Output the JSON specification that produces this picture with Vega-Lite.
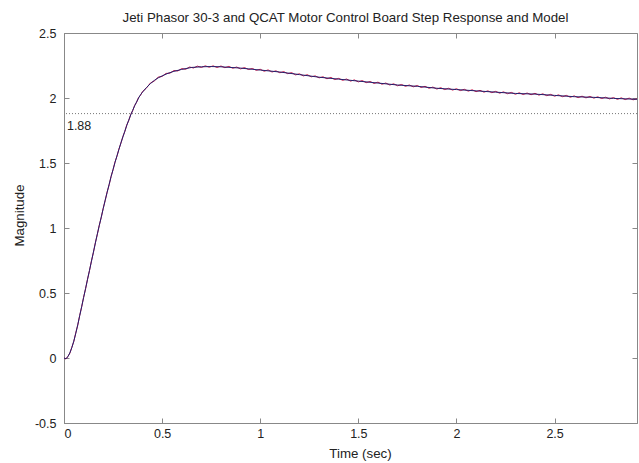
{
  "$schema": "https://vega.github.io/schema/vega-lite/v6.json",
  "width": 573,
  "height": 390,
  "autosize": "none",
  "padding": {"left": 64, "top": 33, "right": 2, "bottom": 40},
  "background": "white",
  "config": {
    "font": "Liberation Sans",
    "view": {"stroke": "#888", "strokeWidth": 1},
    "axis": {"grid": false, "domainColor": "#888", "tickColor": "#888", "labelColor": "#222", "titleColor": "#222", "labelFontSize": 12.5, "titleFontSize": 13.3, "titleFontWeight": "normal", "tickSize": -5, "labelPadding": 9}
  },
  "title": {"text": "Jeti Phasor 30-3 and QCAT Motor Control Board Step Response and Model", "fontSize": 13.3, "fontWeight": "normal", "color": "#222", "anchor": "middle", "offset": 3, "dx": -5},
  "datasets": {
    "ref": [{"t": 0.02, "y": 1.88, "label": "1.88"}],
    "model": [
      {"t": 0, "y": 0}, {"t": 0.01, "y": -0.005}, {"t": 0.02, "y": 0.01}, {"t": 0.03, "y": 0.04}, {"t": 0.04, "y": 0.08},
      {"t": 0.05, "y": 0.13}, {"t": 0.06, "y": 0.19}, {"t": 0.07, "y": 0.255}, {"t": 0.08, "y": 0.325}, {"t": 0.09, "y": 0.395},
      {"t": 0.1, "y": 0.465}, {"t": 0.11, "y": 0.535}, {"t": 0.12, "y": 0.605}, {"t": 0.13, "y": 0.675}, {"t": 0.14, "y": 0.745},
      {"t": 0.15, "y": 0.815}, {"t": 0.16, "y": 0.885}, {"t": 0.17, "y": 0.955}, {"t": 0.18, "y": 1.02}, {"t": 0.19, "y": 1.085},
      {"t": 0.2, "y": 1.15}, {"t": 0.21, "y": 1.215}, {"t": 0.22, "y": 1.275}, {"t": 0.23, "y": 1.335}, {"t": 0.24, "y": 1.395},
      {"t": 0.25, "y": 1.45}, {"t": 0.26, "y": 1.505}, {"t": 0.27, "y": 1.555}, {"t": 0.28, "y": 1.605}, {"t": 0.29, "y": 1.655},
      {"t": 0.3, "y": 1.7}, {"t": 0.31, "y": 1.745}, {"t": 0.32, "y": 1.79}, {"t": 0.33, "y": 1.83}, {"t": 0.34, "y": 1.87},
      {"t": 0.35, "y": 1.905}, {"t": 0.36, "y": 1.94}, {"t": 0.37, "y": 1.97}, {"t": 0.38, "y": 2.0}, {"t": 0.39, "y": 2.025},
      {"t": 0.4, "y": 2.045}, {"t": 0.42, "y": 2.08}, {"t": 0.44, "y": 2.11}, {"t": 0.46, "y": 2.135}, {"t": 0.48, "y": 2.155},
      {"t": 0.5, "y": 2.17}, {"t": 0.53, "y": 2.19}, {"t": 0.56, "y": 2.205}, {"t": 0.6, "y": 2.22}, {"t": 0.65, "y": 2.235},
      {"t": 0.7, "y": 2.24}, {"t": 0.75, "y": 2.242}, {"t": 0.8, "y": 2.24},
      {"t": 0.9, "y": 2.23}, {"t": 1.0, "y": 2.215}, {"t": 1.1, "y": 2.2}, {"t": 1.2, "y": 2.18}, {"t": 1.3, "y": 2.16},
      {"t": 1.4, "y": 2.145}, {"t": 1.5, "y": 2.13}, {"t": 1.6, "y": 2.115}, {"t": 1.7, "y": 2.1}, {"t": 1.8, "y": 2.09},
      {"t": 1.9, "y": 2.075}, {"t": 2.0, "y": 2.065}, {"t": 2.1, "y": 2.055}, {"t": 2.2, "y": 2.045}, {"t": 2.3, "y": 2.035},
      {"t": 2.4, "y": 2.03}, {"t": 2.5, "y": 2.02}, {"t": 2.6, "y": 2.01}, {"t": 2.7, "y": 2.005}, {"t": 2.8, "y": 1.997},
      {"t": 2.92, "y": 1.99}
    ],
    "meas": [
      {"t": 0, "y": 0}, {"t": 0.01, "y": -0.008}, {"t": 0.02, "y": 0.013}, {"t": 0.03, "y": 0.037}, {"t": 0.04, "y": 0.083},
      {"t": 0.05, "y": 0.127}, {"t": 0.06, "y": 0.193}, {"t": 0.07, "y": 0.252}, {"t": 0.08, "y": 0.328}, {"t": 0.09, "y": 0.392},
      {"t": 0.1, "y": 0.468}, {"t": 0.11, "y": 0.532}, {"t": 0.12, "y": 0.608}, {"t": 0.13, "y": 0.672}, {"t": 0.14, "y": 0.748},
      {"t": 0.15, "y": 0.812}, {"t": 0.16, "y": 0.888}, {"t": 0.17, "y": 0.952}, {"t": 0.18, "y": 1.023}, {"t": 0.19, "y": 1.082},
      {"t": 0.2, "y": 1.153}, {"t": 0.21, "y": 1.212}, {"t": 0.22, "y": 1.278}, {"t": 0.23, "y": 1.332}, {"t": 0.24, "y": 1.398},
      {"t": 0.25, "y": 1.447}, {"t": 0.26, "y": 1.508}, {"t": 0.27, "y": 1.552}, {"t": 0.28, "y": 1.608}, {"t": 0.29, "y": 1.652},
      {"t": 0.3, "y": 1.703}, {"t": 0.31, "y": 1.742}, {"t": 0.32, "y": 1.793}, {"t": 0.33, "y": 1.827}, {"t": 0.34, "y": 1.873},
      {"t": 0.35, "y": 1.902}, {"t": 0.36, "y": 1.943}, {"t": 0.37, "y": 1.967}, {"t": 0.38, "y": 2.004}, {"t": 0.39, "y": 2.021},
      {"t": 0.4, "y": 2.049}, {"t": 0.42, "y": 2.076}, {"t": 0.44, "y": 2.115}, {"t": 0.46, "y": 2.131}, {"t": 0.48, "y": 2.16},
      {"t": 0.5, "y": 2.166}, {"t": 0.52, "y": 2.189}, {"t": 0.54, "y": 2.191}, {"t": 0.56, "y": 2.211}, {"t": 0.58, "y": 2.208},
      {"t": 0.6, "y": 2.226}, {"t": 0.62, "y": 2.221}, {"t": 0.64, "y": 2.238}, {"t": 0.66, "y": 2.231}, {"t": 0.68, "y": 2.245},
      {"t": 0.7, "y": 2.235}, {"t": 0.72, "y": 2.247}, {"t": 0.74, "y": 2.237}, {"t": 0.76, "y": 2.247}, {"t": 0.78, "y": 2.235},
      {"t": 0.8, "y": 2.246}, {"t": 0.82, "y": 2.233}, {"t": 0.84, "y": 2.243}, {"t": 0.86, "y": 2.229}, {"t": 0.88, "y": 2.238},
      {"t": 0.9, "y": 2.224}, {"t": 0.92, "y": 2.234}, {"t": 0.94, "y": 2.219}, {"t": 0.96, "y": 2.227}, {"t": 0.98, "y": 2.213},
      {"t": 1.0, "y": 2.221}, {"t": 1.02, "y": 2.206}, {"t": 1.04, "y": 2.216}, {"t": 1.06, "y": 2.2}, {"t": 1.08, "y": 2.209},
      {"t": 1.1, "y": 2.194}, {"t": 1.12, "y": 2.203}, {"t": 1.14, "y": 2.187}, {"t": 1.16, "y": 2.195}, {"t": 1.18, "y": 2.178},
      {"t": 1.2, "y": 2.186}, {"t": 1.22, "y": 2.17}, {"t": 1.24, "y": 2.179}, {"t": 1.26, "y": 2.163}, {"t": 1.28, "y": 2.17},
      {"t": 1.3, "y": 2.155}, {"t": 1.32, "y": 2.163}, {"t": 1.34, "y": 2.148}, {"t": 1.36, "y": 2.158}, {"t": 1.38, "y": 2.142},
      {"t": 1.4, "y": 2.151}, {"t": 1.42, "y": 2.136}, {"t": 1.44, "y": 2.146}, {"t": 1.46, "y": 2.13}, {"t": 1.48, "y": 2.139},
      {"t": 1.5, "y": 2.124}, {"t": 1.52, "y": 2.134}, {"t": 1.54, "y": 2.118}, {"t": 1.56, "y": 2.127}, {"t": 1.58, "y": 2.112},
      {"t": 1.6, "y": 2.122}, {"t": 1.62, "y": 2.106}, {"t": 1.64, "y": 2.115}, {"t": 1.66, "y": 2.1}, {"t": 1.68, "y": 2.109},
      {"t": 1.7, "y": 2.094}, {"t": 1.72, "y": 2.104}, {"t": 1.74, "y": 2.09}, {"t": 1.76, "y": 2.1}, {"t": 1.78, "y": 2.086},
      {"t": 1.8, "y": 2.096}, {"t": 1.82, "y": 2.081}, {"t": 1.84, "y": 2.09}, {"t": 1.86, "y": 2.075}, {"t": 1.88, "y": 2.084},
      {"t": 1.9, "y": 2.069}, {"t": 1.92, "y": 2.079}, {"t": 1.94, "y": 2.065}, {"t": 1.96, "y": 2.075}, {"t": 1.98, "y": 2.061},
      {"t": 2.0, "y": 2.071}, {"t": 2.02, "y": 2.057}, {"t": 2.04, "y": 2.067}, {"t": 2.06, "y": 2.053}, {"t": 2.08, "y": 2.063},
      {"t": 2.1, "y": 2.049}, {"t": 2.12, "y": 2.059}, {"t": 2.14, "y": 2.045}, {"t": 2.16, "y": 2.055}, {"t": 2.18, "y": 2.041},
      {"t": 2.2, "y": 2.051}, {"t": 2.22, "y": 2.037}, {"t": 2.24, "y": 2.047}, {"t": 2.26, "y": 2.033}, {"t": 2.28, "y": 2.043},
      {"t": 2.3, "y": 2.029}, {"t": 2.32, "y": 2.04}, {"t": 2.34, "y": 2.027}, {"t": 2.36, "y": 2.038}, {"t": 2.38, "y": 2.025},
      {"t": 2.4, "y": 2.036}, {"t": 2.42, "y": 2.022}, {"t": 2.44, "y": 2.032}, {"t": 2.46, "y": 2.018}, {"t": 2.48, "y": 2.028},
      {"t": 2.5, "y": 2.014}, {"t": 2.52, "y": 2.024}, {"t": 2.54, "y": 2.01}, {"t": 2.56, "y": 2.02}, {"t": 2.58, "y": 2.006},
      {"t": 2.6, "y": 2.016}, {"t": 2.62, "y": 2.003}, {"t": 2.64, "y": 2.014}, {"t": 2.66, "y": 2.001}, {"t": 2.68, "y": 2.012},
      {"t": 2.7, "y": 1.999}, {"t": 2.72, "y": 2.009}, {"t": 2.74, "y": 1.996}, {"t": 2.76, "y": 2.006}, {"t": 2.78, "y": 1.993},
      {"t": 2.8, "y": 2.003}, {"t": 2.82, "y": 1.99}, {"t": 2.84, "y": 2.001}, {"t": 2.86, "y": 1.988}, {"t": 2.88, "y": 1.999},
      {"t": 2.9, "y": 1.986}, {"t": 2.92, "y": 1.994}
    ]
  },
  "resolve": {"axis": {"x": "independent", "y": "independent"}},
  "layer": [
    {
      "data": {"name": "ref"},
      "mark": {"type": "rule", "color": "#777", "strokeDash": [1, 2], "strokeWidth": 1},
      "encoding": {"y": {"field": "y", "type": "quantitative", "axis": null}}
    },
    {
      "data": {"name": "ref"},
      "mark": {"type": "text", "align": "left", "baseline": "middle", "dy": 12, "dx": -1, "fontSize": 12.5, "color": "#222"},
      "encoding": {
        "x": {"field": "t", "type": "quantitative", "axis": null},
        "y": {"field": "y", "type": "quantitative", "axis": null},
        "text": {"field": "label"}
      }
    },
    {
      "data": {"name": "meas"},
      "mark": {"type": "line", "color": "#cc1144", "strokeWidth": 1, "clip": true},
      "encoding": {
        "x": {"field": "t", "type": "quantitative", "scale": {"domain": [0, 2.92], "nice": false, "zero": false}, "axis": {"title": "Time (sec)", "values": [0, 0.5, 1, 1.5, 2, 2.5], "labelExpr": "'' + datum.value", "titlePadding": 7, "titleX": 296}},
        "y": {"field": "y", "type": "quantitative", "scale": {"domain": [-0.5, 2.5], "nice": false, "zero": false}, "axis": {"title": "Magnitude", "values": [-0.5, 0, 0.5, 1, 1.5, 2, 2.5], "labelExpr": "'' + datum.value", "labelPadding": 13, "titlePadding": 8, "titleY": 182}}
      }
    },
    {
      "data": {"name": "model"},
      "mark": {"type": "line", "color": "#22226e", "strokeWidth": 1, "clip": true},
      "encoding": {
        "x": {"field": "t", "type": "quantitative", "axis": {"orient": "top", "labels": false, "title": null, "domain": false, "values": [0, 0.5, 1, 1.5, 2, 2.5]}},
        "y": {"field": "y", "type": "quantitative", "axis": {"orient": "right", "labels": false, "title": null, "domain": false, "values": [-0.5, 0, 0.5, 1, 1.5, 2, 2.5]}}
      }
    }
  ]
}
